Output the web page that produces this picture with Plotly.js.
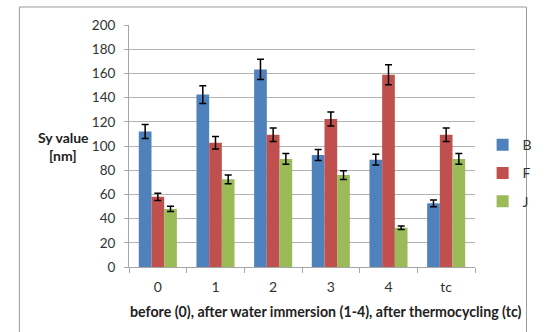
<!DOCTYPE html>
<html>
<head>
<meta charset="utf-8">
<script src="https://cdn.plot.ly/plotly-3.0.1.min.js"></script>
<style>html,body{margin:0;padding:0;background:#fff;}#chart{width:550px;height:332px;}</style>
</head>
<body>
<div id="chart"></div>
<script>
var categories = ["0", "1", "2", "3", "4", "tc"];
var seriesB = [112, 142.5, 163.3, 92.6, 88.7, 52.6];
var errB = [5.8, 7.3, 8.4, 4.6, 4.5, 2.8];
var seriesF = [58, 102.7, 109.3, 122.3, 158.9, 109.3];
var errF = [3.0, 5.2, 5.6, 5.8, 8.3, 5.6];
var seriesJ = [48, 72.5, 89.3, 76, 32.4, 89.3];
var errJ = [2.2, 3.6, 4.4, 3.6, 1.4, 4.4];
var yTicks = [0, 20, 40, 60, 80, 100, 120, 140, 160, 180, 200];

var FONT = "Lato, 'Open Sans', sans-serif";
function trace(name, y, err, color) {
  return {
    type: "bar", name: name, x: categories, y: y, legendgroup: name,
    marker: {color: color, line: {width: 0}},
    error_y: {type: "data", array: err, visible: true, color: "#000", thickness: 1.5, width: 3.5}
  };
}
var data = [
  trace("B", seriesB, errB, "#4F81BD"),
  trace("F", seriesF, errF, "#C0504D"),
  trace("J", seriesJ, errJ, "#9BBB59")
];
var layout = {
  width: 550, height: 332,
  margin: {l: 129, r: 58, t: 25, b: 65},
  paper_bgcolor: "#fff", plot_bgcolor: "#fff",
  font: {family: FONT, size: 14, color: "#333"},
  barmode: "group", bargap: 0.34, bargroupgap: 0,
  showlegend: true,
  legend: {x: 1.022, xanchor: "left", y: 0.5697, yanchor: "top", traceorder: "grouped", tracegroupgap: 7,
           font: {family: FONT, size: 14, color: "#333"}, bgcolor: "rgba(0,0,0,0)"},
  xaxis: {type: "category", showgrid: false, showline: true, linecolor: "#A6A6A6", linewidth: 1,
          ticks: "outside", tickson: "boundaries", ticklen: 5, tickcolor: "#A6A6A6",
          ticklabelstandoff: 7,
          tickfont: {family: FONT, size: 14, color: "#333"}, fixedrange: true},
  yaxis: {range: [0, 200], tickvals: yTicks, showgrid: true, gridcolor: "#B3B3B3", gridwidth: 1,
          showline: true, linecolor: "#A6A6A6", linewidth: 1, ticks: "outside", ticklen: 4,
          tickcolor: "#A6A6A6", zeroline: false, tickfont: {family: FONT, size: 13.5, color: "#333"},
          ticklabelstandoff: 6, fixedrange: true},
  annotations: [
    {text: "<b>Sy value</b>", xref: "paper", yref: "paper", x: -0.19, y: 0.537, xanchor: "center", yanchor: "middle",
     showarrow: false, font: {family: FONT, size: 14, color: "#222"}},
    {text: "<b>[nm]</b>", xref: "paper", yref: "paper", x: -0.19, y: 0.459, xanchor: "center", yanchor: "middle",
     showarrow: false, font: {family: FONT, size: 14, color: "#222"}},
    {text: "<b>before (0), after water immersion (1-4), after thermocycling (tc)</b>", xref: "paper", yref: "paper",
     x: 0.568, y: -0.182, xanchor: "center", yanchor: "middle", showarrow: false,
     font: {family: FONT, size: 14.2, color: "#222"}}
  ],
  shapes: [
    {type: "rect", xref: "paper", yref: "paper", x0: -0.3168, x1: 1.1488, y0: -0.32, y1: 1.0744,
     line: {color: "#9A9A9A", width: 1}, fillcolor: "rgba(0,0,0,0)", layer: "below"}
  ]
};
Plotly.newPlot("chart", data, layout, {displayModeBar: false, staticPlot: true});
</script>
</body>
</html>
